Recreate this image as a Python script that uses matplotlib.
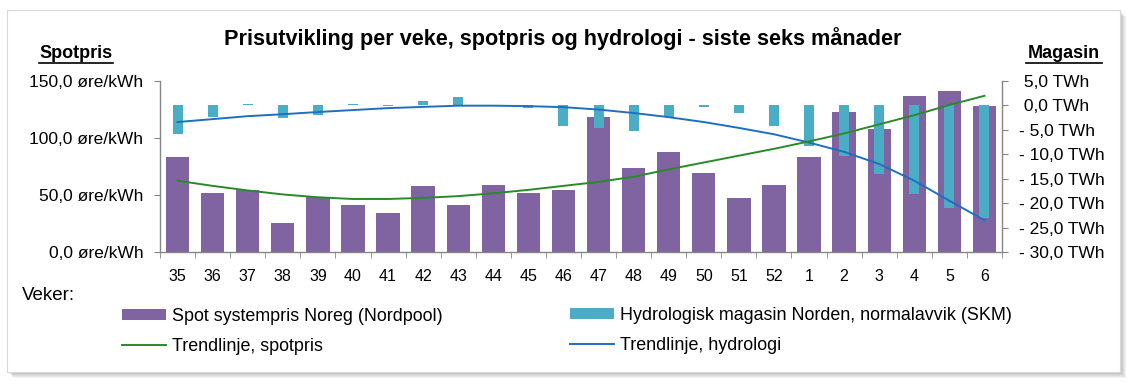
import matplotlib
matplotlib.use("Agg")
import matplotlib.pyplot as plt
from matplotlib.patches import Rectangle, Patch
from matplotlib.lines import Line2D
import numpy as np

plt.rcParams['font.family'] = ['Liberation Sans', 'DejaVu Sans']

# ---- data ----
weeks = ["35", "36", "37", "38", "39", "40", "41", "42", "43", "44", "45", "46",
         "47", "48", "49", "50", "51", "52", "1", "2", "3", "4", "5", "6"]
spot_price = [83.5, 51.5, 54.5, 25.5, 48.5, 41.5, 34.0, 57.5, 41.0, 59.0, 51.5, 54.5,
              118.0, 73.5, 88.0, 69.0, 47.0, 59.0, 83.5, 122.5, 108.0, 137.0, 141.5, 128.5]
hydro_dev = [-5.9, -2.4, 0.3, -2.6, -1.9, 0.2, -0.1, 1.0, 1.7, 0.05, -0.5, -4.3,
             -4.6, -5.3, -2.4, -0.25, -1.6, -4.3, -8.4, -10.3, -14.1, -18.1, -21.0, -23.0]
spot_trend = [62.5, 58.0, 54.0, 50.5, 48.0, 46.5, 46.5, 47.5, 49.0, 51.5, 54.5, 58.0,
              61.5, 66.0, 72.5, 78.5, 84.5, 90.5, 97.0, 104.0, 112.0, 120.0, 129.0, 137.0]
hydro_trend = [-3.4, -2.8, -2.2, -1.8, -1.35, -0.95, -0.55, -0.3, -0.05, -0.05, -0.15, -0.35,
               -0.85, -1.55, -2.4, -3.4, -4.6, -5.9, -7.6, -9.5, -12.0, -15.4, -19.5, -23.5]

left_ticks = [0, 50, 100, 150]
left_labels = ["0,0 øre/kWh", "50,0 øre/kWh", "100,0 øre/kWh", "150,0 øre/kWh"]
right_ticks = [5, 0, -5, -10, -15, -20, -25, -30]
right_labels = [" 5,0 TWh", " 0,0 TWh", "- 5,0 TWh", "- 10,0 TWh", "- 15,0 TWh",
                "- 20,0 TWh", "- 25,0 TWh", "- 30,0 TWh"]

title = "Prisutvikling per veke, spotpris og hydrologi - siste seks månader"
legend_labels = ["Spot systempris Noreg (Nordpool)", "Trendlinje, spotpris",
                 "Hydrologisk magasin Norden, normalavvik (SKM)", "Trendlinje, hydrologi"]

PURPLE = "#8064A2"
AQUA = "#4BACC6"
GREEN = "#2A8A2A"
BLUE = "#1F6FC0"
SPINE = "#868686"

W, H = 1131, 386
fig = plt.figure(figsize=(W / 100, H / 100), dpi=100)

def fx(px):
    return px / W

def fy(py):
    return 1 - py / H

# frame with shadow
for i in range(6, 0, -1):
    fig.patches.append(Rectangle((fx(7 + i), fy(372 + i)), fx(1113), 362 / H,
                                 transform=fig.transFigure, facecolor="#808080",
                                 alpha=0.10, edgecolor="none", zorder=0))
fig.patches.append(Rectangle((fx(7), fy(372)), fx(1113), 362 / H,
                             transform=fig.transFigure, facecolor="white",
                             edgecolor="#d9d9d9", linewidth=0.8, zorder=1))

ax = fig.add_axes([fx(160), fy(252), fx(1002 - 160), (252 - 81) / H])
ax.set_zorder(2)
ax.patch.set_visible(False)

x = np.arange(len(weeks))
ax.bar(x, spot_price, width=0.665, color=PURPLE, zorder=2)
ax.set_ylim(0, 150)
ax.set_xlim(-0.5, len(weeks) - 0.5)

ax2 = ax.twinx()
ax2.bar(x, hydro_dev, width=0.285, color=AQUA, zorder=2)
ax2.plot(x, hydro_trend, color=BLUE, lw=1.4, zorder=3)
ax2.set_ylim(-30, 5)

ax3 = ax.twinx()
ax3.plot(x, spot_trend, color=GREEN, lw=1.4, zorder=3)
ax3.set_ylim(0, 150)
ax3.axis("off")

for a in (ax, ax2):
    a.spines["top"].set_visible(False)
    for s in ("left", "right", "bottom"):
        a.spines[s].set_color(SPINE)
        a.spines[s].set_linewidth(1.0)

ax.spines["right"].set_visible(False)
ax2.spines["left"].set_visible(False)
ax2.spines["bottom"].set_visible(False)

ax.set_yticks(left_ticks)
ax.set_yticklabels(left_labels, fontsize=12.5)
ax.tick_params(axis="y", length=4.5, color=SPINE, pad=7.5, labelcolor="black")

ax2.set_yticks(right_ticks)
ax2.set_yticklabels(right_labels, fontsize=12.5)
ax2.tick_params(axis="y", length=4.5, color=SPINE, pad=7.5, labelcolor="black")

ax.set_xticks(x)
ax.set_xticklabels(weeks, fontsize=11.5)
ax.tick_params(axis="x", which="major", length=0, pad=12)
ax.set_xticks(np.arange(-0.5, len(weeks), 1.0), minor=True)
ax.tick_params(axis="x", which="minor", length=4.5, color=SPINE)

fig.text(fx(563), fy(39), title, ha="center", va="center", fontsize=15.6,
         fontweight="bold")
fig.text(fx(76), fy(54), "Spotpris", ha="center", va="center", fontsize=13,
         fontweight="bold")
fig.text(fx(1064), fy(54), "Magasin", ha="center", va="center", fontsize=13,
         fontweight="bold")
# underlines
fig.add_artist(Line2D([fx(39), fx(113)], [fy(62.5), fy(62.5)], color="black", lw=1.2))
fig.add_artist(Line2D([fx(1026), fx(1102)], [fy(62.5), fy(62.5)], color="black", lw=1.2))

fig.text(fx(22), fy(295), "Veker:", ha="left", va="center", fontsize=13.5)

h_spot = Patch(facecolor=PURPLE, edgecolor="none")
h_hyd = Patch(facecolor=AQUA, edgecolor="none")
l_green = Line2D([], [], color=GREEN, lw=1.4)
l_blue = Line2D([], [], color=BLUE, lw=1.4)

common = dict(loc="upper left", frameon=False, fontsize=12.9, borderpad=0,
              borderaxespad=0, handlelength=2.45, handleheight=0.6,
              handletextpad=0.35, labelspacing=0.72)
fig.legend([h_spot, l_green], legend_labels[:2],
           bbox_to_anchor=(fx(122), fy(308)), **common)
fig.legend([h_hyd, l_blue], legend_labels[2:],
           bbox_to_anchor=(fx(570), fy(307)), **common)

fig.savefig("out.png", dpi=100)
